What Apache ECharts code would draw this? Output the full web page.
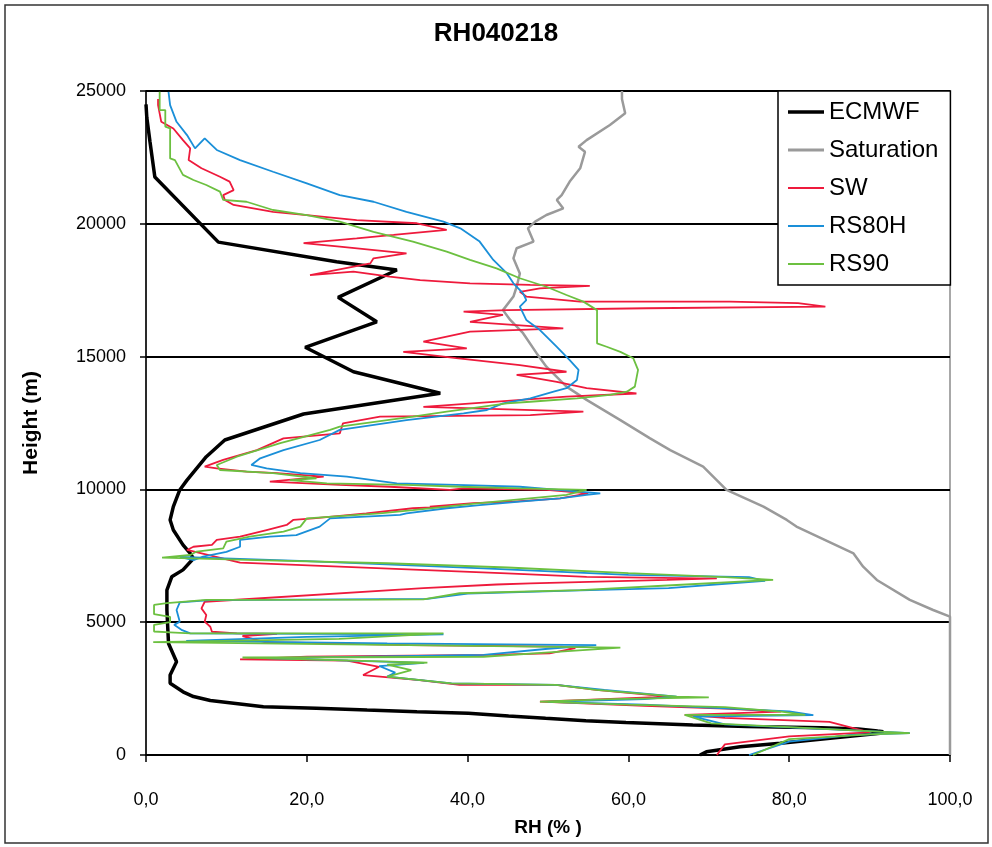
<!DOCTYPE html>
<html>
<head>
<meta charset="utf-8">
<script src="https://cdn.jsdelivr.net/npm/echarts@6/dist/echarts.min.js"></script>
<style>
html, body { margin: 0; padding: 0; background: #fff; }
#chart { width: 992px; height: 847px; }
</style>
</head>
<body>
<div id="chart"></div>
<script>
// profiles: [RH %, height m]
var ecmwf = [[68.9,0],[69.7,120],[73.9,310],[78.9,440],[85.4,640],[91.3,820],[91.7,880],[91.0,900],[88.6,980],[84.0,1030],[74.8,1070],[68.0,1130],[59.7,1220],[54.7,1290],[49.7,1380],[45.1,1470],[40.1,1570],[33.7,1630],[27.5,1690],[21.2,1760],[14.6,1820],[8.0,2050],[5.9,2200],[4.6,2380],[3.0,2700],[3.0,3010],[3.8,3510],[2.8,4200],[2.6,5460],[2.6,6210],[3.2,6710],[4.6,6970],[5.9,7400],[5.5,7590],[4.6,7910],[3.4,8470],[3.0,8850],[3.4,9350],[4.2,9980],[5.1,10350],[7.5,11230],[9.8,11860],[19.6,12840],[36.6,13620],[25.8,14430],[19.8,15350],[28.7,16310],[23.9,17230],[31.2,18260],[23.7,18570],[9.0,19310],[1.1,21760],[0.5,23080],[0.1,24000],[0,24500]];

var saturation = [[100,0],[100,5210],[97.9,5460],[95.0,5840],[90.9,6590],[89.2,7090],[88.0,7590],[80.9,8600],[79.7,8850],[76.8,9350],[72.2,9980],[69.3,10860],[65.2,11480],[62.7,11920],[59.0,12610],[54.8,13370],[52.3,13870],[49.8,14620],[48.6,15120],[46.9,15880],[45.3,16380],[44.4,16750],[45.7,17260],[46.1,17630],[46.5,18130],[45.7,18700],[46.1,19080],[48.2,19330],[47.5,19830],[48.4,20080],[49.8,20330],[51.9,20580],[51.1,20900],[51.7,21080],[52.7,21590],[54.0,22090],[54.6,22710],[53.8,22900],[54.8,23150],[57.7,23720],[59.6,24160],[59.2,24700],[59.2,25000]];

var sw = [[71.0,0],[72,400],[80,700],[90,850],[85,1250],[72,1400],[67,1510],[79,1630],[72,1750],[62,1850],[49,2010],[65,2200],[56,2450],[51,2640],[39,2640],[34,2820],[27,3010],[29,3320],[25,3550],[11.7,3600],[20,3700],[42.4,3770],[50.2,3830],[53.4,4020],[51.7,4080],[32.8,4140],[18.5,4230],[15,4230],[12,4480],[16.3,4560],[11.3,4580],[8.2,4640],[8.0,4830],[7.3,5020],[7.5,5270],[6.9,5520],[7.3,5770],[7.5,5840],[34.5,6280],[43.6,6420],[47.8,6460],[64.8,6590],[71.0,6650],[68.9,6650],[54.8,6710],[44.9,6840],[34.1,6970],[11.7,7240],[5.1,7720],[5.9,7840],[8.2,7910],[8.8,8100],[11.7,8220],[15.0,8470],[17.5,8660],[18.3,8850],[20.8,8910],[27.4,9100],[33.2,9290],[37.8,9350],[35.3,9350],[40.7,9480],[45.7,9540],[51.5,9660],[55,9850],[49.8,9980],[39.5,10040],[37.8,9980],[30.3,10100],[24.1,10170],[15.4,10290],[22.1,10480],[16.3,10610],[12.5,10670],[8.8,10790],[7.3,10860],[9.6,11110],[13.8,11480],[17.1,11920],[24.1,12110],[24.5,12490],[29.1,12740],[47.8,12800],[54.4,12930],[34.5,13110],[52.3,13490],[61.0,13610],[54.8,13810],[51.1,14050],[46.1,14310],[52.3,14430],[46.5,14680],[38.6,14940],[32.0,15180],[39.9,15310],[34.5,15560],[40.3,15940],[51.9,16060],[40.3,16310],[44.4,16570],[39.5,16690],[44.9,16750],[62.3,16820],[84.5,16880],[81.1,17010],[72.6,17070],[54.0,17070],[47.3,17260],[46.5,17440],[49.0,17570],[55.2,17660],[47.8,17700],[40.3,17760],[34.1,17880],[30.3,18010],[25.8,18200],[20.4,18070],[27.9,18510],[28.3,18700],[32.4,18890],[24.1,19140],[19.6,19270],[26.2,19450],[30.8,19580],[37.4,19770],[33.7,20020],[26.2,20140],[20.0,20330],[15.8,20450],[10.9,20710],[9.8,20900],[9.6,21080],[10.9,21270],[10.4,21590],[9.2,21770],[6.9,22090],[5.3,22400],[5.5,22840],[4.6,23150],[3.4,23590],[1.9,23840],[1.5,24470],[1.5,24700]];

var rs80h = [[75,0],[80,500],[88,760],[95,820],[88,930],[72,1150],[68,1450],[83,1500],[80,1640],[62,1900],[50,2000],[62,2100],[66,2200],[57,2450],[51,2640],[38,2700],[30,2950],[31,3100],[29,3350],[34.6,3470],[15,3650],[42,3770],[50,4000],[56,4140],[30,4200],[5,4300],[20,4450],[37,4540],[5.5,4580],[4.5,4700],[3.5,4900],[4.2,5020],[3.8,5460],[4.2,5750],[8,5830],[35,5880],[40,6080],[54,6200],[65,6280],[77,6560],[75,6700],[60,6780],[42,7030],[20,7300],[4.2,7460],[5.9,7340],[7.1,7470],[10.0,7650],[11.7,7840],[11.7,8100],[15.4,8220],[18.7,8280],[21.6,8600],[22.9,8910],[31.6,9040],[32.4,9100],[37.4,9290],[41.5,9410],[46.5,9540],[51.5,9660],[54.8,9790],[56.5,9850],[46.5,10100],[38.6,10170],[31.2,10230],[25.0,10480],[19.2,10610],[15.0,10790],[13.1,10920],[14.2,11170],[17.1,11480],[21.6,11860],[24.1,12240],[32.4,12610],[39.5,12860],[42.4,12990],[44.4,13240],[47.8,13430],[50.7,13680],[52.3,13810],[53.6,14120],[53.8,14500],[52.7,14870],[51.1,15370],[49.0,16000],[47.3,16380],[46.5,16880],[47.3,17130],[46.9,17380],[45.7,17760],[44.9,18130],[43.2,18640],[41.5,19330],[39.1,19830],[37.0,20080],[32.4,20450],[28.3,20830],[24.1,21080],[20.0,21520],[15.8,21960],[11.7,22400],[8.8,22780],[7.3,23220],[6.1,22840],[5.1,23340],[3.8,23840],[3.0,24470],[2.8,24970]];

var rs90 = [[75.5,0],[80,600],[90,780],[95,820],[88,930],[80,1050],[70.3,1190],[67,1510],[82,1510],[79,1630],[72,1800],[60,1900],[49,2010],[58,2100],[70,2170],[66,2200],[56,2450],[51,2640],[38,2700],[30,2950],[33,3200],[30,3400],[35,3480],[20,3600],[12,3670],[25,3680],[42,3700],[52,3900],[59,4040],[0.9,4250],[24,4370],[37,4580],[5.5,4580],[3,4620],[1,4650],[1,4900],[3,5000],[3,5200],[1,5300],[1,5650],[2.6,5720],[7.5,5840],[29,5850],[34.5,5860],[39,6090],[54,6210],[66,6400],[78,6590],[72,6700],[60,6850],[45,7060],[30,7220],[15,7330],[2.0,7430],[5.5,7530],[6.3,7660],[9.6,7780],[10.0,8030],[12.9,8220],[17.1,8410],[19.2,8600],[20.0,8910],[29.1,9100],[33.2,9220],[41.5,9480],[52.3,9790],[54.8,9980],[46.5,10040],[39.1,10100],[32.4,10170],[22.5,10230],[17.9,10350],[21.2,10420],[15.8,10610],[9.2,10730],[8.8,10920],[11.3,11230],[16.7,11740],[22.9,12240],[24.1,12360],[33.2,12740],[37.4,12930],[44.9,13240],[47.8,13300],[53.6,13430],[57.7,13560],[59.8,13680],[60.8,13870],[61.2,14500],[60.6,14940],[59.0,15180],[57.3,15370],[56.1,15500],[56.1,16750],[54.4,17070],[52.3,17320],[49.8,17630],[46.5,17950],[43.6,18320],[40.3,18640],[37.4,18950],[33.2,19330],[28.3,19700],[24.1,20080],[20.0,20330],[15.8,20520],[12.5,20830],[9.6,20900],[9.2,21210],[7.5,21460],[5.9,21650],[4.6,21840],[3.6,22400],[3.0,22460],[3.0,23590],[2.4,23660],[2.4,24280],[1.7,24280],[1.7,24970]];

var xTicks = [0, 20, 40, 60, 80, 100];
var yTicks = [0, 5000, 10000, 15000, 20000, 25000];

var font = "'Liberation Sans', Arial, sans-serif";
var chart = echarts.init(document.getElementById('chart'));

function lineSeries(name, data, color, width) {
    return {
        name: name,
        type: 'line',
        data: data,
        symbol: 'none',
        smooth: false,
        clip: true,
        lineStyle: { color: color, width: width },
        itemStyle: { color: color }
    };
}

// plain line sample for the legend, thickness like the series
function legendLine(name, thick) {
    return { name: name, icon: 'path://M0,0L36,0L36,' + thick + 'L0,' + thick + 'Z' };
}

var option = {
    animation: false,
    backgroundColor: '#fff',
    title: {
        text: 'RH040218',
        left: 'center',
        top: 16,
        textStyle: { fontFamily: font, fontSize: 26, fontWeight: 'bold', color: '#000' }
    },
    grid: { left: 146, right: 42, top: 91, bottom: 92, show: true, borderColor: '#8c8c8c', borderWidth: 1.5 },
    legend: {
        orient: 'vertical',
        left: 778,
        top: 91,
        padding: [9, 12, 9, 10],
        itemGap: 14,
        itemWidth: 36,
        itemHeight: 25,
        backgroundColor: '#fff',
        borderColor: '#000',
        borderWidth: 1.5,
        textStyle: { fontFamily: font, fontSize: 24, color: '#000' },
        data: [
            legendLine('ECMWF', 3.5),
            legendLine('Saturation', 3),
            legendLine('SW', 2),
            legendLine('RS80H', 2),
            legendLine('RS90', 2)
        ]
    },
    xAxis: {
        type: 'value',
        min: xTicks[0],
        max: xTicks[xTicks.length - 1],
        interval: 20,
        name: 'RH (% )',
        nameLocation: 'middle',
        nameGap: 63,
        nameTextStyle: { fontFamily: font, fontSize: 19, fontWeight: 'bold', color: '#000' },
        axisLine: { show: true, lineStyle: { color: '#000', width: 1.5 } },
        axisTick: { show: true, length: 7, lineStyle: { color: '#000', width: 1.5 } },
        axisLabel: {
            margin: 36,
            fontFamily: font,
            fontSize: 18,
            color: '#000',
            formatter: function (v) { return v.toFixed(1).replace('.', ','); }
        },
        splitLine: { show: false }
    },
    yAxis: {
        type: 'value',
        min: yTicks[0],
        max: yTicks[yTicks.length - 1],
        interval: 5000,
        name: 'Height (m)',
        nameLocation: 'middle',
        nameGap: 104,
        nameTextStyle: { fontFamily: font, fontSize: 21, fontWeight: 'bold', color: '#000' },
        axisLine: { show: true, lineStyle: { color: '#000', width: 1.5 } },
        axisTick: { show: true, length: 6, lineStyle: { color: '#000', width: 1.5 } },
        axisLabel: {
            margin: 20,
            fontFamily: font,
            fontSize: 18,
            color: '#000',
            formatter: function (v) { return String(v); }
        },
        splitLine: { show: true, lineStyle: { color: '#000', width: 2 } }
    },
    graphic: [{
        type: 'rect',
        shape: { x: 5, y: 5, width: 983, height: 838 },
        style: { fill: null, stroke: '#333', lineWidth: 1.5 },
        silent: true
    }],
    series: [
        lineSeries('ECMWF', ecmwf, '#000000', 3.5),
        lineSeries('Saturation', saturation, '#9a9a9a', 2.5),
        lineSeries('SW', sw, '#ee1a3c', 1.8),
        lineSeries('RS80H', rs80h, '#1a8fd8', 1.8),
        lineSeries('RS90', rs90, '#6cc040', 1.8)
    ]
};

chart.setOption(option);
</script>
</body>
</html>
